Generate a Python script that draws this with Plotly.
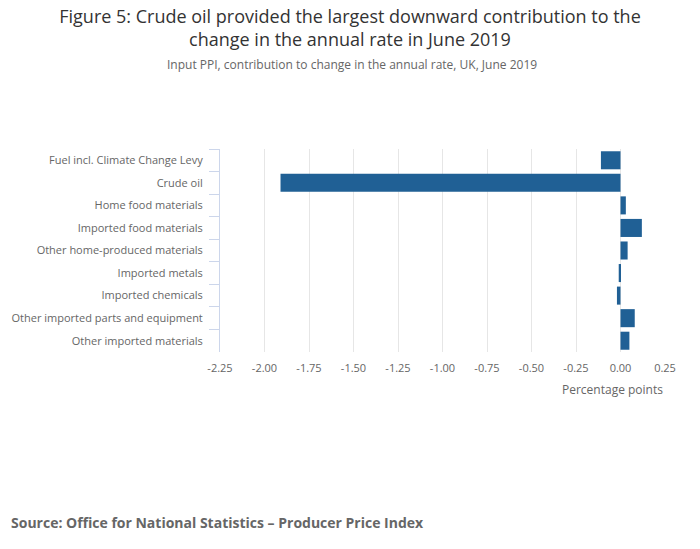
import plotly.graph_objects as go

# Input PPI contributions, June 2019 (percentage points)
categories = [
    "Fuel incl. Climate Change Levy",
    "Crude oil",
    "Home food materials",
    "Imported food materials",
    "Other home-produced materials",
    "Imported metals",
    "Imported chemicals",
    "Other imported parts and equipment",
    "Other imported materials",
]
contributions = [-0.11, -1.91, 0.03, 0.12, 0.04, -0.01, -0.02, 0.08, 0.05]
tick_values = [-2.25, -2.0, -1.75, -1.5, -1.25, -1.0, -0.75, -0.5, -0.25, 0.0, 0.25]
tick_labels = ["-2.25", "-2.00", "-1.75", "-1.50", "-1.25", "-1.00",
               "-0.75", "-0.50", "-0.25", "0.00", "0.25"]

fig = go.Figure()

fig.add_trace(go.Bar(
    x=contributions,
    y=categories,
    orientation="h",
    marker=dict(color="#206095", line=dict(width=0)),
    hovertemplate="%{y}: %{x:.2f}<extra></extra>",
))

fig.update_layout(
    width=700,
    height=549,
    font=dict(family="Open Sans", color="#666666"),
    paper_bgcolor="white",
    plot_bgcolor="white",
    showlegend=False,
    bargap=0.2,
    margin=dict(l=217, r=35, t=149, b=197),
    title=dict(
        text="Figure 5: Crude oil provided the largest downward contribution to the<br>change in the annual rate in June 2019",
        x=0.5,
        xanchor="center",
        y=1 - 22.5 / 549,
        yanchor="middle",
        font=dict(size=18, color="#333333"),
    ),
)

fig.update_xaxes(
    range=[-2.25, 0.25],
    tickvals=tick_values,
    ticktext=tick_labels,
    showgrid=True,
    gridcolor="#e6e6e6",
    gridwidth=1,
    zeroline=False,
    showline=False,
    ticks="",
    ticklabelstandoff=8,
    tickfont=dict(size=11, color="#666666"),
)

fig.update_yaxes(
    autorange="reversed",
    showline=True,
    linecolor="#ccd6eb",
    linewidth=1,
    ticks="outside",
    tickson="boundaries",
    ticklen=10,
    tickcolor="#ccd6eb",
    ticklabelstandoff=14,
    showgrid=False,
    tickfont=dict(size=11, color="#666666"),
)

# subtitle, centred on the page
fig.add_annotation(
    text="Input PPI, contribution to change in the annual rate, UK, June 2019",
    xref="paper", yref="paper",
    x=(350 - 217) / (700 - 217 - 35), y=1,
    xanchor="center", yanchor="middle",
    yshift=149 - 64, showarrow=False,
    font=dict(size=12, color="#666666"),
)

fig.add_annotation(
    text="Percentage points",
    xref="paper", yref="paper", x=1, y=0,
    xanchor="right", yanchor="middle",
    yshift=-(389 - 352), showarrow=False,
    font=dict(size=12, color="#666666"),
)

fig.add_annotation(
    text="<b>Source: Office for National Statistics – Producer Price Index</b>",
    xref="paper", yref="paper", x=0, y=0,
    xanchor="left", yanchor="middle",
    xshift=-(217 - 6), yshift=-(522 - 352), showarrow=False,
    font=dict(size=14, color="#666666"),
)

fig.write_html(
    "out.html",
    config={"displayModeBar": False},
    post_script="document.body.style.margin = '0';",
)
